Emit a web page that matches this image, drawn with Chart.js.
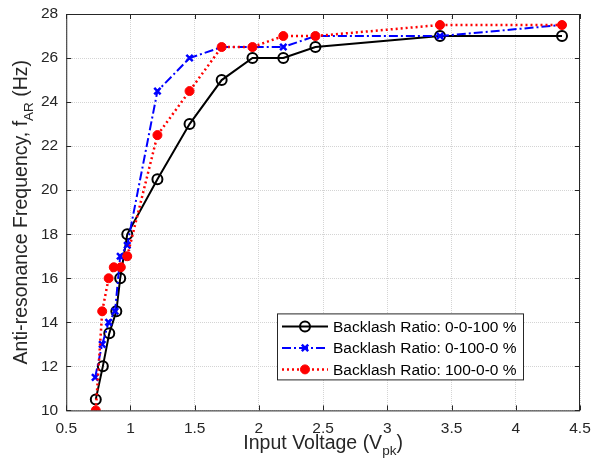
<!DOCTYPE html>
<html>
<head>
<meta charset="utf-8">
<script src="https://cdn.jsdelivr.net/npm/chart.js@4"></script>
<style>
  html, body { margin: 0; padding: 0; background: #fff; }
  #wrap { width: 591px; height: 474px; }
</style>
</head>
<body>
<div id="wrap"><canvas id="myChart" width="591" height="474"></canvas></div>
<script>
// valores
var xTicks = [0.5, 1, 1.5, 2, 2.5, 3, 3.5, 4, 4.5];
var yTicks = [10, 12, 14, 16, 18, 20, 22, 24, 26, 28];

var seriesNames = ['Backlash Ratio: 0-0-100 %', 'Backlash Ratio: 0-100-0 %', 'Backlash Ratio: 100-0-0 %'];

var voltBlack = [0.73, 0.785, 0.835, 0.89, 0.92, 0.975, 1.21, 1.46, 1.71, 1.95, 2.19, 2.44, 3.41, 4.36];
var freqBlack = [10.5, 12, 13.5, 14.5, 16, 18, 20.5, 23, 25, 26, 26, 26.5, 27, 27];

var voltBlue = [0.725, 0.78, 0.83, 0.88, 0.92, 0.975, 1.21, 1.46, 1.71, 1.95, 2.19, 2.44, 3.41, 4.36];
var freqBlue = [11.5, 13, 14, 14.5, 17, 17.5, 24.5, 26, 26.5, 26.5, 26.5, 27, 27, 27.5];

var voltRed = [0.73, 0.78, 0.83, 0.87, 0.925, 0.975, 1.21, 1.46, 1.71, 1.95, 2.19, 2.44, 3.41, 4.36];
var freqRed = [10, 14.5, 16, 16.5, 16.5, 17, 22.5, 24.5, 26.5, 26.5, 27, 27, 27.5, 27.5];

function pares(xs, ys) {
    return xs.map(function (x, i) { return { x: x, y: ys[i] }; });
}

var FONT = '"Liberation Sans", Arial, sans-serif';

// titulos dos eixos com subscrito, legenda e ticks para dentro
var extras = {
    id: 'extras',
    afterDraw: function (chart) {
        var ctx = chart.ctx;
        var a = chart.chartArea;
        var xs = chart.scales.x, ys = chart.scales.y;
        ctx.save();

        // caixa
        ctx.strokeStyle = '#262626';
        ctx.lineWidth = 1;
        ctx.setLineDash([]);
        ctx.strokeRect(a.left + 0.5, a.top + 0.5, a.right - a.left - 1, a.bottom - a.top);

        // ticks internos
        ctx.beginPath();
        xTicks.forEach(function (v) {
            var px = Math.round(xs.getPixelForValue(v)) + 0.5;
            ctx.moveTo(px, a.bottom); ctx.lineTo(px, a.bottom - 5);
            ctx.moveTo(px, a.top); ctx.lineTo(px, a.top + 5);
        });
        yTicks.forEach(function (v) {
            var py = Math.round(ys.getPixelForValue(v)) + 0.5;
            ctx.moveTo(a.left, py); ctx.lineTo(a.left + 5, py);
            ctx.moveTo(a.right, py); ctx.lineTo(a.right - 5, py);
        });
        ctx.stroke();

        // titulo eixo x
        ctx.fillStyle = '#262626';
        ctx.textBaseline = 'alphabetic';
        var big = '19.5px ' + FONT, small = '13.5px ' + FONT;
        var p1 = 'Input Voltage (V', p2 = 'pk', p3 = ')';
        ctx.font = big; var w1 = ctx.measureText(p1).width, w3 = ctx.measureText(p3).width;
        ctx.font = small; var w2 = ctx.measureText(p2).width;
        var cx = (a.left + a.right) / 2;
        var sx = cx - (w1 + w2 + w3) / 2, by = 449;
        ctx.textAlign = 'left';
        ctx.font = big; ctx.fillText(p1, sx, by);
        ctx.font = small; ctx.fillText(p2, sx + w1, by + 6);
        ctx.font = big; ctx.fillText(p3, sx + w1 + w2, by);

        // titulo eixo y
        var q1 = 'Anti-resonance Frequency, f', q2 = 'AR', q3 = ' (Hz)';
        ctx.font = big; var v1 = ctx.measureText(q1).width, v3 = ctx.measureText(q3).width;
        ctx.font = small; var v2 = ctx.measureText(q2).width;
        ctx.translate(27, (a.top + a.bottom) / 2);
        ctx.rotate(-Math.PI / 2);
        var sy = -(v1 + v2 + v3) / 2;
        ctx.font = big; ctx.fillText(q1, sy, 0);
        ctx.font = small; ctx.fillText(q2, sy + v1, 6);
        ctx.font = big; ctx.fillText(q3, sy + v1 + v2, 0);
        ctx.setTransform(1, 0, 0, 1, 0, 0);

        // legenda
        var lw = 246, lh = 66;
        var lx = a.right - 57 - lw, ly = a.bottom - 31 - lh;
        ctx.fillStyle = '#fff';
        ctx.fillRect(lx, ly, lw, lh);
        ctx.strokeStyle = '#262626';
        ctx.lineWidth = 1;
        ctx.strokeRect(lx + 0.5, ly + 0.5, lw, lh);
        chart.data.datasets.forEach(function (ds, i) {
            var ry = ly + 13 + i * 21.5;
            ctx.strokeStyle = ds.borderColor;
            ctx.lineWidth = ds.borderWidth;
            ctx.setLineDash(ds.borderDash || []);
            ctx.beginPath();
            ctx.moveTo(lx + 5, ry); ctx.lineTo(lx + 51, ry);
            ctx.stroke();
            ctx.setLineDash([]);
            ctx.strokeStyle = ds.pointBorderColor;
            ctx.fillStyle = ds.pointBackgroundColor;
            ctx.lineWidth = ds.pointBorderWidth;
            Chart.helpers.drawPoint(ctx, {
                pointStyle: ds.pointStyle,
                radius: ds.pointRadius,
                borderWidth: ds.pointBorderWidth
            }, lx + 28, ry);
            ctx.fillStyle = '#000';
            ctx.font = '15.5px ' + FONT;
            ctx.textAlign = 'left';
            ctx.textBaseline = 'middle';
            ctx.fillText(ds.label, lx + 56, ry + 1);
        });
        ctx.restore();
    }
};

var ctx = document.getElementById('myChart').getContext('2d');
var chart = new Chart(ctx, {
    type: 'scatter',
    data: {
        datasets: [{
            label: seriesNames[0],
            data: pares(voltBlack, freqBlack),
            showLine: true,
            borderColor: '#000000',
            borderWidth: 2,
            pointStyle: 'circle',
            pointRadius: 5,
            pointBorderWidth: 2,
            pointBorderColor: '#000000',
            pointBackgroundColor: 'rgba(0,0,0,0)',
            order: 2
        }, {
            label: seriesNames[1],
            data: pares(voltBlue, freqBlue),
            showLine: true,
            borderColor: '#0000ff',
            borderWidth: 2,
            borderDash: [9, 3, 2, 3],
            pointStyle: 'crossRot',
            pointRadius: 4.5,
            pointBorderWidth: 2.5,
            pointBorderColor: '#0000ff',
            pointBackgroundColor: '#0000ff',
            order: 1
        }, {
            label: seriesNames[2],
            data: pares(voltRed, freqRed),
            showLine: true,
            borderColor: '#ff0000',
            borderWidth: 2.5,
            borderDash: [2, 3],
            pointStyle: 'circle',
            pointRadius: 4.5,
            pointBorderWidth: 1,
            pointBorderColor: '#ff0000',
            pointBackgroundColor: '#ff0000',
            order: 0
        }]
    },
    options: {
        responsive: false,
        animation: false,
        layout: { padding: { left: 33, right: 11, top: 14, bottom: 27 } },
        plugins: { legend: { display: false }, tooltip: { enabled: false } },
        scales: {
            x: {
                type: 'linear',
                min: 0.5, max: 4.5,
                afterBuildTicks: function (s) { s.ticks = xTicks.map(function (v) { return { value: v }; }); },
                afterFit: function (s) { s.paddingRight = 0; s.paddingLeft = 0; },
                ticks: { color: '#262626', font: { family: FONT, size: 15.5 }, padding: 9, maxRotation: 0,
                    callback: function (v) { return String(v); } },
                grid: { color: '#d4d4d4', drawTicks: false, lineWidth: 1 },
                border: { display: false, dash: [1, 1] }
            },
            y: {
                type: 'linear',
                min: 10, max: 28,
                afterBuildTicks: function (s) { s.ticks = yTicks.map(function (v) { return { value: v }; }); },
                afterFit: function (s) { s.paddingTop = 0; s.paddingBottom = 0; },
                ticks: { color: '#262626', font: { family: FONT, size: 15.5 }, padding: 8,
                    callback: function (v) { return String(v); } },
                grid: { color: '#d4d4d4', drawTicks: false, lineWidth: 1 },
                border: { display: false, dash: [1, 1] }
            }
        }
    },
    plugins: [extras]
});
</script>
</body>
</html>
